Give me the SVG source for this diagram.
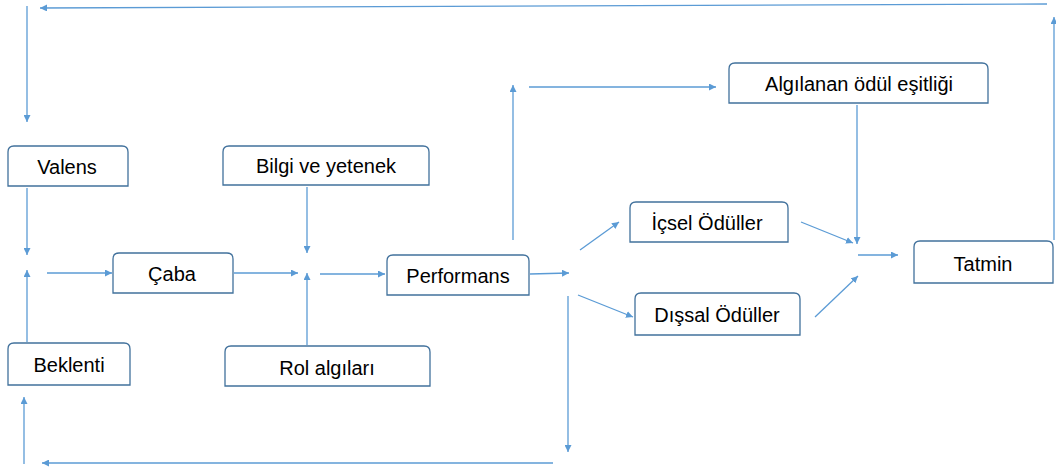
<svg xmlns="http://www.w3.org/2000/svg" width="1056" height="470" viewBox="0 0 1056 470">
<defs>
<style>
.box{fill:#fff;stroke:#41719C;stroke-width:1.3}
.lbl{font-family:"Liberation Sans","Open Sans",sans-serif;font-size:20px;fill:#000;text-anchor:middle}
.c{fill:none;stroke:#5B9BD5;stroke-width:1.3;marker-end:url(#ah)}
</style>
<marker id="ah" viewBox="0 0 10 10" refX="10" refY="5" markerWidth="7" markerHeight="7" markerUnits="userSpaceOnUse" orient="auto">
<path d="M0,0 L10,5 L0,10 z" fill="#5B9BD5"/>
</marker>
</defs>
<rect width="1056" height="470" fill="#fff"/>

<g id="valens"><path class="box" d="M8,186 V152 Q8,146 14,146 H122 Q128,146 128,152 V186 Z"/><text class="lbl" x="67" y="174">Valens</text></g>
<g id="beklenti"><path class="box" d="M8,385 V349 Q8,343 14,343 H124 Q130,343 130,349 V385 Z"/><text class="lbl" x="69" y="372">Beklenti</text></g>
<g id="caba"><path class="box" d="M113,293 V259 Q113,253 119,253 H227 Q233,253 233,259 V293 Z"/><text class="lbl" x="172" y="281">Çaba</text></g>
<g id="bilgi"><path class="box" d="M223,185 V152 Q223,146 229,146 H423 Q429,146 429,152 V185 Z"/><text class="lbl" x="326" y="173">Bilgi ve yetenek</text></g>
<g id="rol"><path class="box" d="M225,386 V352 Q225,346 231,346 H424 Q430,346 430,352 V386 Z"/><text class="lbl" x="327" y="375">Rol algıları</text></g>
<g id="performans"><path class="box" d="M387,295 V261 Q387,255 393,255 H523 Q529,255 529,261 V295 Z"/><text class="lbl" x="458" y="283">Performans</text></g>
<g id="algilanan"><path class="box" d="M729,103 V69 Q729,63 735,63 H982 Q988,63 988,69 V103 Z"/><text class="lbl" x="859" y="91">Algılanan ödül eşitliği</text></g>
<g id="icsel"><path class="box" d="M630,242 V208 Q630,202 636,202 H782 Q788,202 788,208 V242 Z"/><text class="lbl" x="707" y="230">İçsel Ödüller</text></g>
<g id="dissal"><path class="box" d="M635,335 V299 Q635,293 641,293 H794 Q800,293 800,299 V335 Z"/><text class="lbl" x="717" y="322">Dışsal Ödüller</text></g>
<g id="tatmin"><path class="box" d="M914,283 V247 Q914,241 920,241 H1047 Q1053,241 1053,247 V283 Z"/><text class="lbl" x="983" y="271">Tatmin</text></g>

<g id="connectors">
<line class="c" x1="27" y1="188" x2="27" y2="255"/>
<line class="c" x1="27" y1="342" x2="27" y2="270"/>
<line class="c" x1="47" y1="273" x2="112" y2="273"/>
<line class="c" x1="234" y1="273" x2="298" y2="273"/>
<line class="c" x1="307" y1="187" x2="307" y2="253"/>
<line class="c" x1="307" y1="345" x2="307" y2="273"/>
<line class="c" x1="320" y1="274" x2="385" y2="274"/>
<line class="c" x1="530" y1="274" x2="569" y2="273"/>
<line class="c" x1="513" y1="240" x2="513" y2="85"/>
<line class="c" x1="529" y1="87" x2="716" y2="87"/>
<line class="c" x1="857" y1="105" x2="857" y2="244"/>
<line class="c" x1="580" y1="250" x2="619" y2="222"/>
<line class="c" x1="578" y1="295" x2="633" y2="317"/>
<line class="c" x1="801" y1="222" x2="853" y2="243"/>
<line class="c" x1="815" y1="317" x2="858" y2="276"/>
<line class="c" x1="858" y1="255" x2="898" y2="255"/>
<line class="c" x1="1054" y1="240" x2="1054" y2="17"/>
<line class="c" x1="1047" y1="4" x2="40" y2="8"/>
<line class="c" x1="27" y1="6" x2="27" y2="122"/>
<line class="c" x1="568" y1="296" x2="568" y2="452"/>
<line class="c" x1="553" y1="463" x2="42" y2="463"/>
<line class="c" x1="24" y1="464" x2="24" y2="397"/>
</g>
</svg>
